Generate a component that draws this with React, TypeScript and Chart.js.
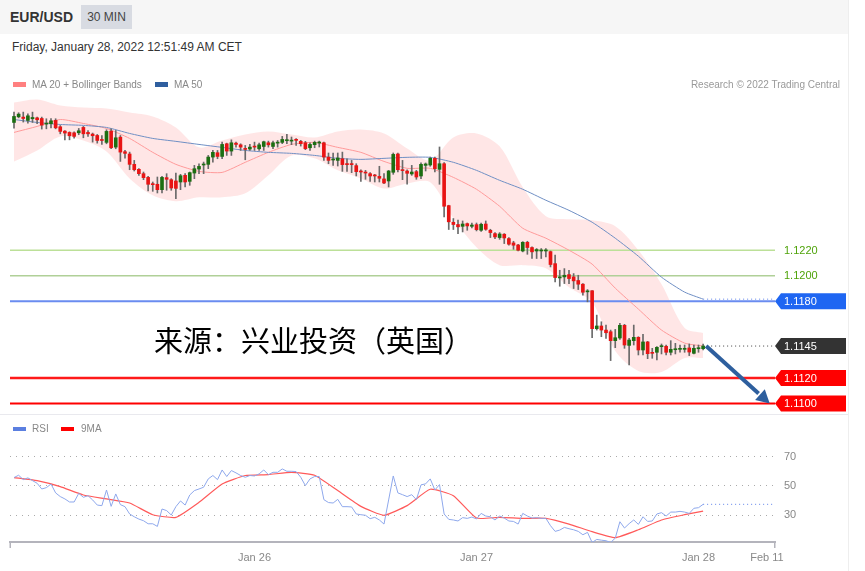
import { useEffect, useRef } from "react"
import Chart from "chart.js/auto"

const opens = [
  1.132, 1.13244, 1.13242, 1.13216, 1.13229, 1.13236, 1.13231, 1.13187, 1.1319, 1.13216,
  1.13166, 1.13132, 1.13122, 1.13119, 1.13119, 1.13161, 1.13122, 1.13109, 1.13098, 1.13064,
  1.13044, 1.13132, 1.13007, 1.13085, 1.12971, 1.12953, 1.12872, 1.12833, 1.12799, 1.1277,
  1.12718, 1.12716, 1.12674, 1.12768, 1.12752, 1.12742, 1.12734, 1.12786, 1.12739, 1.12804,
  1.12835, 1.12867, 1.12872, 1.12929, 1.12963, 1.12934, 1.13033, 1.12976, 1.13038, 1.13025,
  1.12994, 1.12992, 1.13012, 1.12994, 1.13012, 1.13041, 1.13012, 1.13038, 1.13044, 1.13057,
  1.13054, 1.13065, 1.13052, 1.13041, 1.13002, 1.13026, 1.13039, 1.13041, 1.12929, 1.12906,
  1.12903, 1.12916, 1.12877, 1.12875, 1.12862, 1.1282, 1.1281, 1.12799, 1.12786, 1.12778,
  1.12758, 1.12742, 1.1281, 1.12953, 1.1283, 1.1282, 1.12797, 1.12815, 1.12781, 1.12864,
  1.12867, 1.12919, 1.12833, 1.12877, 1.12549, 1.12419, 1.12401, 1.12387, 1.12408, 1.12387,
  1.124, 1.12356, 1.12405, 1.12356, 1.1233, 1.12299, 1.12325, 1.12291, 1.12257, 1.12241,
  1.12194, 1.12262, 1.12221, 1.12194, 1.12194, 1.12194, 1.12189, 1.12095, 1.11983, 1.11991,
  1.12009, 1.11991, 1.11963, 1.11934, 1.11874, 1.11883, 1.11586, 1.11607, 1.11575, 1.11562,
  1.11492, 1.11513, 1.11612, 1.11455, 1.11492, 1.11518, 1.11419, 1.11482, 1.11398, 1.11401,
  1.11445, 1.11448, 1.11401, 1.11421, 1.11424, 1.11424, 1.11435, 1.11393, 1.11429, 1.11429,
]

const highs = [
  1.13281, 1.13276, 1.13281, 1.13268, 1.13281, 1.13242, 1.13242, 1.13229, 1.13231, 1.13229,
  1.13176, 1.13137, 1.13127, 1.13127, 1.13153, 1.13169, 1.13137, 1.13117, 1.13106, 1.13098,
  1.13143, 1.1315, 1.13137, 1.13098, 1.12981, 1.12968, 1.12903, 1.12838, 1.12812, 1.12778,
  1.12734, 1.12773, 1.12778, 1.12799, 1.1276, 1.12804, 1.12794, 1.12799, 1.12812, 1.12864,
  1.12877, 1.1289, 1.12942, 1.12981, 1.12981, 1.13046, 1.13038, 1.13064, 1.13046, 1.13033,
  1.1302, 1.13028, 1.13046, 1.13038, 1.13054, 1.13054, 1.13054, 1.13059, 1.13091, 1.13107,
  1.13086, 1.13073, 1.1306, 1.13052, 1.13041, 1.13054, 1.13054, 1.13047, 1.12961, 1.12961,
  1.12961, 1.12968, 1.12916, 1.12903, 1.12877, 1.1283, 1.12825, 1.12807, 1.12794, 1.12857,
  1.12799, 1.12825, 1.12961, 1.12961, 1.12903, 1.1283, 1.12864, 1.12825, 1.12883, 1.12883,
  1.12929, 1.12929, 1.13008, 1.12885, 1.12552, 1.12448, 1.12435, 1.12429, 1.12413, 1.12413,
  1.12413, 1.12413, 1.12429, 1.12364, 1.12338, 1.12338, 1.1233, 1.12299, 1.1227, 1.12246,
  1.12267, 1.1227, 1.12226, 1.12213, 1.12213, 1.12213, 1.12194, 1.12161, 1.12043, 1.12056,
  1.12043, 1.12017, 1.12004, 1.11939, 1.11892, 1.11885, 1.11692, 1.1164, 1.11614, 1.11575,
  1.1158, 1.11627, 1.1162, 1.1151, 1.11614, 1.11523, 1.11541, 1.11487, 1.11432, 1.11445,
  1.11466, 1.11458, 1.11492, 1.11471, 1.11458, 1.11458, 1.11466, 1.11458, 1.11458, 1.11466,
]

const lows = [
  1.13156, 1.13236, 1.13203, 1.13195, 1.132, 1.1319, 1.13148, 1.1315, 1.13158, 1.1315,
  1.13111, 1.13064, 1.13064, 1.13077, 1.13104, 1.1308, 1.13091, 1.13046, 1.13038, 1.13028,
  1.13033, 1.12994, 1.12994, 1.12895, 1.12921, 1.1283, 1.1282, 1.12786, 1.12752, 1.12664,
  1.12661, 1.12648, 1.12648, 1.12669, 1.12669, 1.12604, 1.12674, 1.12695, 1.12708, 1.1276,
  1.12799, 1.12799, 1.12838, 1.1289, 1.12916, 1.12916, 1.12942, 1.12942, 1.13007, 1.12981,
  1.12908, 1.12981, 1.12981, 1.12981, 1.12981, 1.13007, 1.12994, 1.13007, 1.13034, 1.13034,
  1.13026, 1.13021, 1.13015, 1.12987, 1.12982, 1.13002, 1.13008, 1.12903, 1.12877, 1.12864,
  1.12859, 1.12817, 1.12817, 1.12807, 1.12781, 1.12739, 1.12755, 1.12739, 1.12734, 1.12734,
  1.12721, 1.12695, 1.12794, 1.12812, 1.12752, 1.12716, 1.12786, 1.12755, 1.1276, 1.1282,
  1.12857, 1.12812, 1.12716, 1.12461, 1.12362, 1.12362, 1.1233, 1.12343, 1.12356, 1.12374,
  1.12351, 1.12348, 1.12356, 1.12299, 1.12291, 1.12285, 1.12252, 1.12239, 1.12207, 1.12194,
  1.12187, 1.12168, 1.12135, 1.12135, 1.12135, 1.12148, 1.12069, 1.11952, 1.11918, 1.11939,
  1.11939, 1.119, 1.11892, 1.11848, 1.11796, 1.11515, 1.11575, 1.11523, 1.1151, 1.11336,
  1.11437, 1.11502, 1.11432, 1.11302, 1.11458, 1.1138, 1.1138, 1.11351, 1.11354, 1.11341,
  1.11388, 1.1138, 1.1138, 1.11388, 1.11401, 1.11401, 1.11375, 1.11388, 1.11401, 1.11419,
]

const closes = [
  1.13247, 1.13265, 1.13231, 1.13252, 1.13239, 1.13221, 1.13179, 1.13195, 1.13213, 1.13158,
  1.1313, 1.13117, 1.13096, 1.13091, 1.13135, 1.13111, 1.13111, 1.13096, 1.13059, 1.13059,
  1.1313, 1.13002, 1.1308, 1.12968, 1.12958, 1.12872, 1.1283, 1.12799, 1.12768, 1.12716,
  1.12713, 1.12674, 1.1277, 1.12755, 1.12687, 1.12684, 1.12783, 1.12734, 1.12807, 1.12838,
  1.12856, 1.12872, 1.12929, 1.12966, 1.12934, 1.13028, 1.12976, 1.13041, 1.13028, 1.13007,
  1.12989, 1.13007, 1.13007, 1.13025, 1.13049, 1.13025, 1.13041, 1.13046, 1.13067, 1.13065,
  1.1306, 1.1306, 1.13034, 1.12995, 1.13028, 1.13044, 1.13044, 1.12929, 1.12903, 1.12911,
  1.12922, 1.1287, 1.1287, 1.1287, 1.12815, 1.12812, 1.12804, 1.12781, 1.12781, 1.12763,
  1.12726, 1.1282, 1.1295, 1.1283, 1.12823, 1.12802, 1.12812, 1.12773, 1.12872, 1.12875,
  1.12919, 1.12838, 1.12877, 1.12544, 1.12422, 1.12401, 1.12383, 1.12405, 1.1239, 1.12397,
  1.12361, 1.12403, 1.12364, 1.12338, 1.12304, 1.12327, 1.12296, 1.12247, 1.12239, 1.122,
  1.12262, 1.12221, 1.12187, 1.12205, 1.12202, 1.12202, 1.12088, 1.11986, 1.11991, 1.12004,
  1.11978, 1.1196, 1.11934, 1.11871, 1.11882, 1.11586, 1.11607, 1.11575, 1.11554, 1.11492,
  1.11515, 1.11612, 1.11458, 1.11497, 1.11518, 1.11419, 1.11482, 1.1139, 1.11393, 1.1144,
  1.1145, 1.11401, 1.11424, 1.11427, 1.11432, 1.11432, 1.11403, 1.11432, 1.11435, 1.1145,
]

// Indicator readings, taken every fifth bar
const sampleBars = [
  0, 5, 10, 15, 20, 25, 30, 35, 40, 45, 50, 55, 60, 65, 70, 75, 80, 85, 90, 95, 100, 105, 110,
  115, 120, 125, 130, 135, 140, 145, 149,
]

const bandUpper = [
  1.13356, 1.1338, 1.13333, 1.13317, 1.13309, 1.13278, 1.13247, 1.13161, 1.13005, 1.13059, 1.13106,
  1.1313, 1.13106, 1.13083, 1.1313, 1.13145, 1.13114, 1.12997, 1.12903, 1.13083, 1.13114, 1.13013,
  1.12692, 1.12466, 1.12442, 1.12434, 1.12388, 1.122, 1.11934, 1.11591, 1.11552,
]

const bandLower = [
  1.12895, 1.12981, 1.13091, 1.13059, 1.12973, 1.12762, 1.1263, 1.12583, 1.12614, 1.12614, 1.12645,
  1.12786, 1.12942, 1.12919, 1.12825, 1.12762, 1.12684, 1.12723, 1.12731, 1.1245, 1.12223, 1.12083,
  1.12083, 1.12059, 1.11911, 1.11794, 1.11411, 1.11255, 1.11247, 1.11356, 1.11356,
]

const ma20 = [
  1.13122, 1.13169, 1.13223, 1.13192, 1.13153, 1.13075, 1.12966, 1.12872, 1.12817, 1.12809, 1.12888,
  1.12966, 1.13028, 1.13044, 1.13005, 1.12966, 1.12895, 1.12841, 1.12841, 1.1277, 1.12677, 1.12544,
  1.12372, 1.12294, 1.122, 1.12091, 1.11903, 1.11739, 1.11575, 1.11473, 1.1145,
]

const ma50 = [
  1.13223, 1.132, 1.13184, 1.13177, 1.13161, 1.13114, 1.13075, 1.13052, 1.13028, 1.13005, 1.12981,
  1.12966, 1.12958, 1.12942, 1.12919, 1.12911, 1.12919, 1.12927, 1.12927, 1.12888, 1.12825, 1.12747,
  1.12677, 1.12591, 1.12512, 1.12419, 1.12294, 1.12153, 1.11989, 1.11872, 1.11817,
]

const rsi = [
  55.6, 57.2, 54.2, 55.4, 53.5, 51.7, 47.8, 48.7, 51.2, 45.1,
  42.6, 41, 38.9, 38.9, 44.8, 42.1, 43.2, 40.3, 36.8, 36.4,
  47.1, 35.9, 44.4, 37.1, 35.7, 30.7, 28.8, 27.2, 26.1, 24,
  24, 22.2, 34.1, 33, 30, 35.7, 39.6, 36.8, 43.7, 46.7,
  47.8, 49, 54.7, 57, 54.2, 60.8, 56.3, 60.4, 58.8, 57,
  55.8, 57, 56.7, 58.1, 60.8, 57.6, 59.2, 59.2, 61.5, 59.9,
  59.9, 59.7, 55.8, 50.1, 54.7, 56.3, 56.3, 40.5, 38.5, 38.2,
  40.7, 35.7, 35.7, 35.5, 30.7, 30.2, 29.8, 27.5, 28.4, 26.6,
  23.8, 40.3, 56.7, 45.1, 43.9, 42.6, 43.9, 40.5, 50.6, 51.3,
  54.7, 47.1, 50.8, 30.7, 27, 26.6, 25.9, 28.2, 27.7, 28.6,
  27.3, 31.1, 29.3, 28.8, 26.6, 29.3, 27.9, 25.9, 25.6, 23.8,
  31.1, 29.3, 27.9, 28.2, 27.7, 27.7, 22.7, 18.8, 19.7, 21.5,
  20.6, 19.9, 18.8, 16.5, 18.1, 11.2, 13.3, 12.8, 12.4, 11.2,
  14.2, 25.4, 21.1, 24.1, 26.6, 23.6, 28.8, 25.6, 25.9, 30.7,
  31.6, 29.3, 32, 32, 32.5, 32, 31.1, 34.6, 35, 37.3,
]

const rsiMa = [
  55.6, 53.5, 49.4, 43.7, 41, 38.2, 30.2, 28.4, 38.7, 51.2, 57, 57.6, 59.2, 57.2, 46.7, 35.9, 29.8,
  36.4, 47.6, 43.2, 27.9, 28.4, 27.7, 27.7, 23.8, 18.6, 14.5, 19.9, 26.6, 30.2, 32.7,
]

const rsiLevels = [30, 50, 70]
const dateBars = [52, 100, 148, 162.8]
const dateLabels = ["Jan 26", "Jan 27", "Jan 28", "Feb 11"]

const supportLevels = [1.122, 1.12, 1.118, 1.112, 1.11]
const levelColors = ["#bce098", "#b0d098", "#6a8cf0", "#ff1a1a", "#ff0000"]
const levelWidths = [1.4, 1.4, 2, 2.4, 2]
const lastPrice = 1.1145
const targetBar = 163.4

const xStart = -0.865
const xEnd = 164.54
const lastBar = closes.length - 1

const barIndexes = closes.map((_, i) => i)
const samplePoints = (values: number[]) => values.map((y, i) => ({ x: sampleBars[i], y }))
const extension = (y: number) => [
  { x: lastBar, y },
  { x: xEnd, y },
]

const candleColor = (i: number) => (closes[i] >= opens[i] ? "#1c6e12" : "#e81414")

// Price tags on the right side, and the forecast arrow
const priceDecorations = {
  id: "priceDecorations",
  afterDatasetsDraw(chart: any) {
    const { ctx, scales, chartArea } = chart
    const yScale = scales.y
    const xScale = scales.x
    const left = chartArea.right
    ctx.save()

    // arrow towards the lower target
    const fromX = xScale.getPixelForValue(lastBar) + 3
    const fromY = yScale.getPixelForValue(closes[lastBar])
    const toX = xScale.getPixelForValue(targetBar)
    const toY = yScale.getPixelForValue(supportLevels[4])
    const angle = Math.atan2(toY - fromY, toX - fromX)
    const headLen = 15
    ctx.strokeStyle = "#2e5f9e"
    ctx.fillStyle = "#2e5f9e"
    ctx.lineWidth = 4
    ctx.beginPath()
    ctx.moveTo(fromX, fromY)
    ctx.lineTo(toX - Math.cos(angle) * headLen, toY - Math.sin(angle) * headLen)
    ctx.stroke()
    ctx.beginPath()
    ctx.moveTo(toX, toY)
    ctx.lineTo(toX - headLen * Math.cos(angle - 0.5), toY - headLen * Math.sin(angle - 0.5))
    ctx.lineTo(toX - headLen * Math.cos(angle + 0.5), toY - headLen * Math.sin(angle + 0.5))
    ctx.closePath()
    ctx.fill()

    ctx.font = '11px "Liberation Sans", Arial, sans-serif'
    ctx.textBaseline = "middle"
    const drawTag = (value: number, color: string) => {
      const y = yScale.getPixelForValue(value)
      ctx.fillStyle = color
      ctx.beginPath()
      ctx.moveTo(left, y)
      ctx.lineTo(left + 6, y - 8)
      ctx.lineTo(left + 71, y - 8)
      ctx.lineTo(left + 71, y + 8)
      ctx.lineTo(left + 6, y + 8)
      ctx.closePath()
      ctx.fill()
      ctx.fillStyle = "#ffffff"
      ctx.fillText(value.toFixed(4), left + 9, y + 0.5)
    }
    const drawPlain = (value: number) => {
      ctx.fillStyle = "#4fa30a"
      ctx.fillText(value.toFixed(4), left + 9, yScale.getPixelForValue(value) + 0.5)
    }
    drawPlain(supportLevels[0])
    drawPlain(supportLevels[1])
    drawTag(supportLevels[2], "#1f66f2")
    drawTag(lastPrice, "#333333")
    drawTag(supportLevels[3], "#ff0000")
    drawTag(supportLevels[4], "#ff0000")
    ctx.restore()
  },
}

// Small end marks of the time axis
const axisEnds = {
  id: "axisEnds",
  afterDraw(chart: any) {
    const { ctx, chartArea } = chart
    ctx.save()
    ctx.fillStyle = "#b4b4bc"
    ctx.fillRect(chartArea.left - 0.5, chartArea.bottom, 1.5, 6)
    ctx.fillRect(chartArea.right - 1, chartArea.bottom, 1.5, 6)
    ctx.restore()
  },
}

export default function App() {
  const priceRef = useRef<HTMLCanvasElement>(null)
  const rsiRef = useRef<HTMLCanvasElement>(null)

  useEffect(() => {
    if (!priceRef.current || !rsiRef.current) return

    const levelDatasets = supportLevels.map((level, i) => ({
      type: "line" as const,
      data: [
        { x: xStart, y: level },
        { x: xEnd, y: level },
      ],
      borderColor: levelColors[i],
      borderWidth: levelWidths[i],
      pointRadius: 0,
      order: 6,
    }))

    const priceChart = new Chart(priceRef.current, {
      type: "bar",
      data: {
        datasets: [
          {
            type: "line",
            label: "Upper band",
            data: samplePoints(bandUpper),
            borderWidth: 0,
            pointRadius: 0,
            tension: 0.3,
            fill: "+1",
            backgroundColor: "rgba(255, 205, 205, 0.5)",
            order: 8,
          },
          {
            type: "line",
            label: "Lower band",
            data: samplePoints(bandLower),
            borderWidth: 0,
            pointRadius: 0,
            tension: 0.3,
            order: 8,
          },
          ...levelDatasets,
          {
            type: "line",
            label: "MA 20",
            data: samplePoints(ma20),
            borderColor: "#ff9a9a",
            borderWidth: 1,
            pointRadius: 0,
            tension: 0.2,
            order: 5,
          },
          {
            type: "line",
            label: "MA 50",
            data: samplePoints(ma50),
            borderColor: "#6f8fc4",
            borderWidth: 1,
            pointRadius: 0,
            tension: 0.2,
            order: 4,
          },
          {
            type: "line",
            data: extension(ma50[ma50.length - 1]),
            borderColor: "#5f83ea",
            borderWidth: 1,
            borderDash: [1, 3],
            pointRadius: 0,
            order: 4,
          },
          {
            type: "line",
            data: extension(lastPrice),
            borderColor: "#444444",
            borderWidth: 1,
            borderDash: [1, 3],
            pointRadius: 0,
            order: 4,
          },
          {
            label: "Range",
            data: barIndexes.map((i) => ({ x: i, y: [lows[i], highs[i]] })) as any,
            backgroundColor: "#6a6a6a",
            barThickness: 1,
            grouped: false,
            order: 3,
          },
          {
            label: "Body",
            data: barIndexes.map((i) => ({ x: i, y: [opens[i], closes[i]] })) as any,
            backgroundColor: barIndexes.map(candleColor),
            barThickness: 3,
            minBarLength: 1,
            grouped: false,
            order: 2,
          },
        ],
      },
      options: {
        responsive: false,
        animation: false,
        layout: { padding: { left: 10, right: 74, top: 0, bottom: 0 } },
        plugins: { legend: { display: false }, tooltip: { enabled: false } },
        scales: {
          x: { type: "linear", display: false, offset: false, min: xStart, max: xEnd },
          y: { display: false, min: 1.10918, max: 1.13454 },
        },
      },
      plugins: [priceDecorations],
    })

    const rsiChart = new Chart(rsiRef.current, {
      type: "line",
      data: {
        datasets: [
          {
            label: "RSI",
            data: barIndexes.map((i) => ({ x: i, y: rsi[i] })),
            borderColor: "#8ea8ec",
            borderWidth: 1,
            pointRadius: 0,
          },
          {
            label: "9MA",
            data: samplePoints(rsiMa),
            borderColor: "#ff5a5a",
            borderWidth: 1.2,
            pointRadius: 0,
            tension: 0.15,
          },
          {
            data: extension(rsi[lastBar]),
            borderColor: "#5f83ea",
            borderWidth: 1,
            borderDash: [1, 3],
            pointRadius: 0,
          },
        ],
      },
      options: {
        responsive: false,
        animation: false,
        layout: { padding: { left: 10, right: 0, top: 26, bottom: 0 } },
        plugins: { legend: { display: false }, tooltip: { enabled: false } },
        scales: {
          x: {
            type: "linear",
            min: xStart,
            max: xEnd,
            afterBuildTicks: (scale) => {
              scale.ticks = dateBars.map((value) => ({ value }))
            },
            afterFit: (scale) => {
              scale.height = 29
            },
            grid: { display: false, drawTicks: false },
            border: { color: "#b4b4bc", width: 2 },
            ticks: {
              autoSkip: false,
              maxRotation: 0,
              padding: 9,
              color: "#888888",
              font: { family: '"Liberation Sans", Arial, sans-serif', size: 11 },
              callback: (value) => dateLabels[dateBars.indexOf(Number(value))],
            },
          },
          y: {
            position: "right",
            min: 11.54,
            max: 80.6,
            afterBuildTicks: (scale) => {
              scale.ticks = rsiLevels.map((value) => ({ value }))
            },
            afterFit: (scale) => {
              scale.width = 74
            },
            grid: { color: "#aaaaaa", drawTicks: false },
            border: { display: false, dash: [1, 5] },
            ticks: {
              padding: 9,
              color: "#888888",
              font: { family: '"Liberation Sans", Arial, sans-serif', size: 11 },
            },
          },
        },
      },
      plugins: [axisEnds],
    })

    return () => {
      priceChart.destroy()
      rsiChart.destroy()
    }
  }, [])

  const swatch = (left: number, top: number, height: number, background: string) => (
    <div style={{ position: "absolute", left, top, width: 13, height, background }} />
  )
  const legendText = (left: number, top: number, text: string) => (
    <div style={{ position: "absolute", left, top, fontSize: 10, lineHeight: "12px", color: "#888888" }}>{text}</div>
  )

  return (
    <div
      style={{
        position: "absolute",
        left: 0,
        top: 0,
        width: 849,
        height: 571,
        background: "#ffffff",
        overflow: "hidden",
        fontFamily: '"Liberation Sans", Arial, sans-serif',
      }}
    >
      <div style={{ position: "absolute", left: 0, top: 0, width: 849, height: 34, background: "#f6f6f6" }} />
      <div style={{ position: "absolute", left: 10, top: 9, fontSize: 14, lineHeight: "16px", fontWeight: 700, color: "#333333" }}>
        EUR/USD
      </div>
      <div
        style={{
          position: "absolute",
          left: 81,
          top: 5,
          width: 51,
          height: 24,
          lineHeight: "24px",
          textAlign: "center",
          fontSize: 12,
          color: "#444444",
          background: "#d8dbe2",
        }}
      >
        30 MIN
      </div>
      <div style={{ position: "absolute", left: 12, top: 40, fontSize: 12, lineHeight: "14px", color: "#333333" }}>
        Friday, January 28, 2022 12:51:49 AM CET
      </div>

      <canvas ref={priceRef} width={849} height={324} style={{ position: "absolute", left: 0, top: 90 }} />
      <canvas ref={rsiRef} width={849} height={156} style={{ position: "absolute", left: 0, top: 415 }} />

      {swatch(13, 82, 5, "#ff8080")}
      {legendText(32, 79, "MA 20 + Bollinger Bands")}
      {swatch(155, 82, 5, "#2f5f9f")}
      {legendText(174, 79, "MA 50")}
      <div style={{ position: "absolute", right: 9, top: 79, fontSize: 10, lineHeight: "12px", color: "#999999" }}>
        Research © 2022 Trading Central
      </div>

      <div
        style={{
          position: "absolute",
          left: 154,
          top: 318,
          fontSize: 29,
          lineHeight: "42px",
          whiteSpace: "nowrap",
          color: "#000000",
          fontFamily: '"Noto Sans CJK SC", sans-serif',
        }}
      >
        来源：兴业投资（英国）
      </div>

      <div style={{ position: "absolute", left: 0, top: 414, width: 849, height: 1, background: "#e9e9ee" }} />
      <div style={{ position: "absolute", left: 848, top: 0, width: 1, height: 571, background: "#eeeeee" }} />

      {swatch(13, 427, 4, "#5b7fe0")}
      {legendText(32, 423, "RSI")}
      {swatch(61, 427, 4, "#ff0000")}
      {legendText(81, 423, "9MA")}
    </div>
  )
}
